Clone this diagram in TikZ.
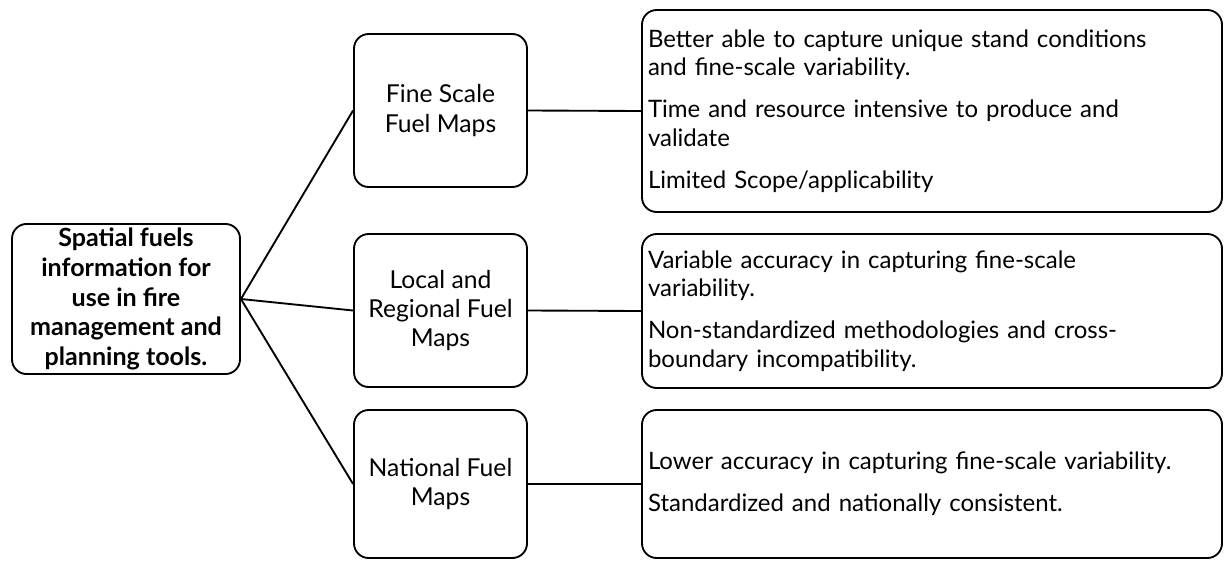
\documentclass[tikz,border=0pt]{standalone}
\usepackage{fontspec}
\setmainfont{Lato}
\tikzset{
  basebox/.style={draw, line width=1.4pt, rounded corners=11pt, inner sep=3pt,
    font=\fontsize{18}{21.2}\selectfont},
  rootbox/.style={basebox, align=center, font=\fontsize{18.8}{22.3}\selectfont\bfseries,
    minimum width=171pt, minimum height=109.5pt},
  mapbox/.style={basebox, align=center, minimum width=129.75pt,
    font=\fontsize{18.5}{21.8}\selectfont},
  notebox/.style={basebox, align=left, text width=426pt, minimum width=435pt},
  link/.style={line width=1.4pt}
}
\begin{document}
\begin{tikzpicture}[x=0.75pt, y=-0.75pt]
\useasboundingbox (0,0) rectangle (1225,561);
% root
\node[rootbox] (root) at (126,299) {Spatial fuels\\ information for\\ use in fire\\ management and\\ planning tools.};
% map types
\node[mapbox, minimum height=114.75pt] (fine) at (440.5,110.5) {Fine Scale\\ Fuel Maps};
\node[mapbox, minimum height=114.75pt] (local) at (440.5,310.5) {Local and\\ Regional Fuel\\ Maps};
\node[mapbox, minimum height=111pt] (national) at (440.5,484) {National Fuel\\ Maps};
% notes
\node[notebox, minimum height=151.5pt] (finenote) at (932,111) {Better able to capture unique stand conditions\\ and fine-scale variability.\\[10.5pt]
Time and resource intensive to produce and\\ validate\\[10.5pt]
Limited Scope/applicability};
\node[notebox, minimum height=115.5pt] (localnote) at (932,311) {Variable accuracy in capturing fine-scale\\ variability.\\[10.5pt]
Non-standardized methodologies and cross-\\ boundary incompatibility.};
\node[notebox, minimum height=111pt] (nationalnote) at (932,484) {Lower accuracy in capturing fine-scale variability.\\[10.5pt]
Standardized and nationally consistent.};
% connectors
\foreach \m in {fine, local, national} {
  \draw[link] (root.east) -- (\m.west);
  \draw[link] (\m.east) -- (\m note.west);
}
\end{tikzpicture}
\end{document}
